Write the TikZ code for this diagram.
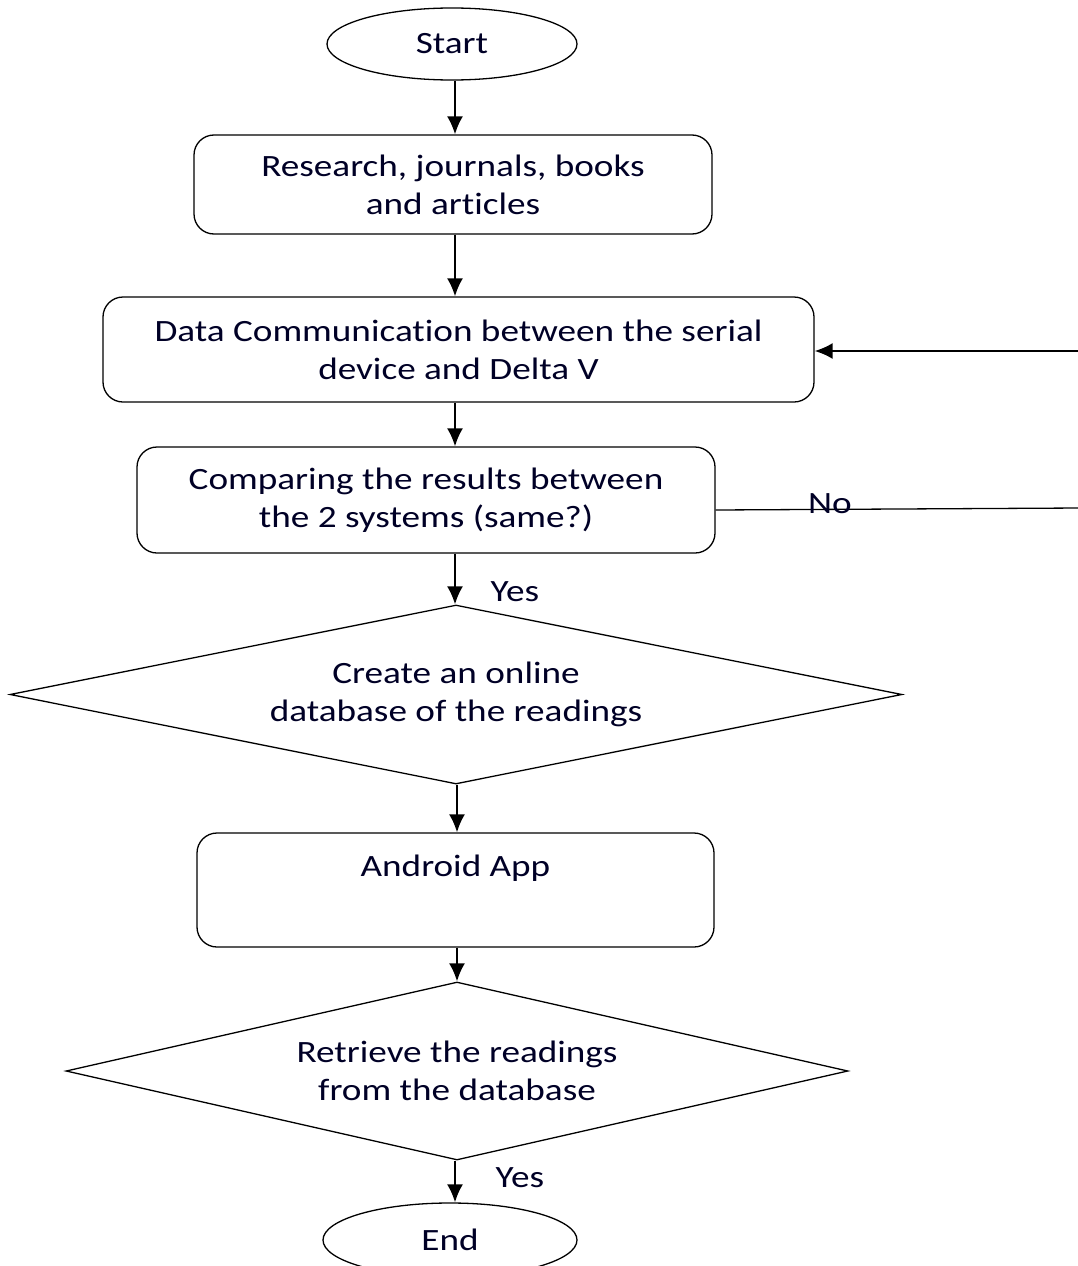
\documentclass[tikz,border=0pt]{standalone}
\usepackage{fontspec}
\setmainfont{Carlito}[FakeStretch=1.2, Ligatures=NoCommon]
\usetikzlibrary{shapes.geometric,arrows.meta}
\begin{document}
\begin{tikzpicture}[x=1pt,y=-1pt,
  every node/.style={font=\fontsize{31}{38}\selectfont, text=black!85!blue},
  term/.style={draw, ellipse, line width=1.3pt, inner sep=0pt},
  proc/.style={draw, rectangle, rounded corners=20pt, line width=1.3pt, align=center, inner sep=0pt},
  decide/.style={draw, diamond, line width=1.3pt, align=center, inner sep=0pt, aspect=5},
  arr/.style={line width=2pt, -{Latex[length=18pt,width=16pt]}},
  link/.style={line width=1.3pt},
  lbl/.style={inner sep=0pt}]
\useasboundingbox (0,0) rectangle (1077,1266);
\coordinate (spine) at (455,0);

\node[term, minimum width=250pt, minimum height=72pt] (start) at (452,44) {Start};
\node[proc, minimum width=518pt, minimum height=99pt] (research) at (453,184.5)
  {Research, journals, books\\and articles};
\node[proc, minimum width=711pt, minimum height=105pt] (comm) at (458.5,349.5)
  {Data Communication between the serial\\device and Delta V};
\node[proc, minimum width=578pt, minimum height=106pt] (compare) at (426,500)
  {Comparing the results between\\the 2 systems (same?)};
\node[decide, minimum width=892pt, minimum height=179pt] (db) at (456,694.5)
  {Create an online\\database of the readings};
\node[proc, minimum width=517pt, minimum height=114pt] (app) at (455.5,890)
  {Android App\\[0pt]\strut};
\node[decide, minimum width=782pt, minimum height=178pt] (retrieve) at (457,1071)
  {Retrieve the readings\\from the database};
\node[term, minimum width=254pt, minimum height=74pt] (end) at (450,1240) {End};

% main flow
\draw[arr] (start.south -| spine) -- (research.north -| spine);
\draw[arr] (research.south -| spine) -- (comm.north -| spine);
\draw[arr] (comm.south -| spine) -- (compare.north -| spine);
\draw[arr] (compare.south -| spine) -- (db.north -| spine);
\draw[arr] (db.south -| 457,0) -- (app.north -| 457,0);
\draw[arr] (app.south -| 457,0) -- (retrieve.north -| 457,0);
\draw[arr] (retrieve.south -| spine) -- (end.north -| spine);

\node[lbl] (yes1) at (515,592) {Yes};
\node[lbl] (yes2) at (520,1178) {Yes};

% loop back when the results differ
\coordinate (loopa) at (1080,508);
\coordinate (loopb) at (1080,351);
\draw[link] (compare.east |- 0,510) -- (loopa) -- (loopb);
\draw[arr] (loopb) -- (comm.east |- loopb);
\node[lbl] (no) at (830,504) {No};
\end{tikzpicture}
\end{document}
